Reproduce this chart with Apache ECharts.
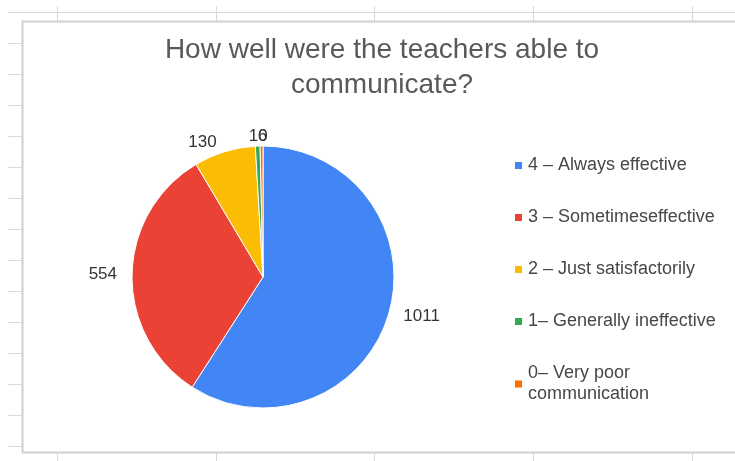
<!DOCTYPE html>
<html>
<head>
<meta charset="utf-8">
<script src="https://cdn.jsdelivr.net/npm/echarts@6/dist/echarts.min.js"></script>
<style>
html,body{margin:0;padding:0;background:#fff;}
#chart{width:735px;height:461px;}
</style>
</head>
<body>
<div id="chart"></div>
<script>
var titleText = "How well were the teachers able to\ncommunicate?";
var categories = ["4 – Always effective", "3 – Sometimeseffective", "2 – Just satisfactorily", "1– Generally ineffective", "0– Very poor communication"];
var values = [1011, 554, 130, 10, 6];
var colors = ["#4285f4", "#ea4335", "#fbbc04", "#34a853", "#ff6d01"];

// decorative spreadsheet grid around the chart box
var gridColor = "#d9d9d9";
var graphics = [];
graphics.push({type:'line', shape:{x1:8,y1:12.5,x2:735,y2:12.5}, style:{stroke:gridColor,lineWidth:1}, silent:true});
[57,216,374,533,692].forEach(function(x){
  graphics.push({type:'line', shape:{x1:x+0.5,y1:6,x2:x+0.5,y2:21}, style:{stroke:gridColor,lineWidth:1}, silent:true});
  graphics.push({type:'line', shape:{x1:x+0.5,y1:452,x2:x+0.5,y2:461}, style:{stroke:gridColor,lineWidth:1}, silent:true});
});
for (var y = 43; y <= 446; y += 31) {
  graphics.push({type:'line', shape:{x1:8,y1:y+0.5,x2:22,y2:y+0.5}, style:{stroke:gridColor,lineWidth:1}, silent:true});
}
graphics.push({type:'polyline', shape:{points:[[736,21.5],[22.5,21.5],[22.5,452.5],[736,452.5]]}, style:{stroke:"#d0d0d0",lineWidth:2,fill:null}, silent:true});

var legendData = categories.map(function(c, i){
  if (i === categories.length - 1) {
    return {name:c, textStyle:{width:140, overflow:'break'}};
  }
  return {name:c};
});

var total = values.reduce(function(a,b){return a+b;}, 0);

var chart = echarts.init(document.getElementById('chart'), null, {renderer:'canvas'});
chart.setOption({
  backgroundColor:'#ffffff',
  animation:false,
  color: colors,
  graphic: graphics,
  title: {
    text: titleText,
    left: 377,
    top: 28,
    textAlign: 'center',
    textStyle: {fontFamily:'Liberation Sans, Arial, sans-serif', fontSize:28, fontWeight:'normal', color:'#595959', lineHeight:35}
  },
  legend: {
    orient:'vertical',
    left: 508,
    top: 150,
    itemWidth: 9,
    itemHeight: 9,
    itemGap: 31,
    icon: 'rect',
    data: legendData,
    textStyle: {fontFamily:'Liberation Sans, Arial, sans-serif', fontSize:18, color:'#474747', lineHeight:21}
  },
  series: [{
    type:'pie',
    center:[263,277],
    radius:131,
    startAngle:90,
    clockwise:true,
    avoidLabelOverlap:false,
    data: categories.map(function(c,i){ return {name:c, value:values[i]}; }),
    itemStyle:{borderColor:'#ffffff', borderWidth:1},
    label:{show:true, position:'outside', formatter:'{c}', fontFamily:'Liberation Sans, Arial, sans-serif', fontSize:17, color:'#333333'},
    labelLine:{show:false, length:10, length2:0},
    labelLayout: function(p){
      if (values[p.dataIndex] / total < 0.02) {
        return {x: p.labelRect.x + (p.align === 'right' ? p.labelRect.width : 0) + 6, align:'center'};
      }
    },
    emphasis:{disabled:true}
  }]
});
</script>
</body>
</html>
